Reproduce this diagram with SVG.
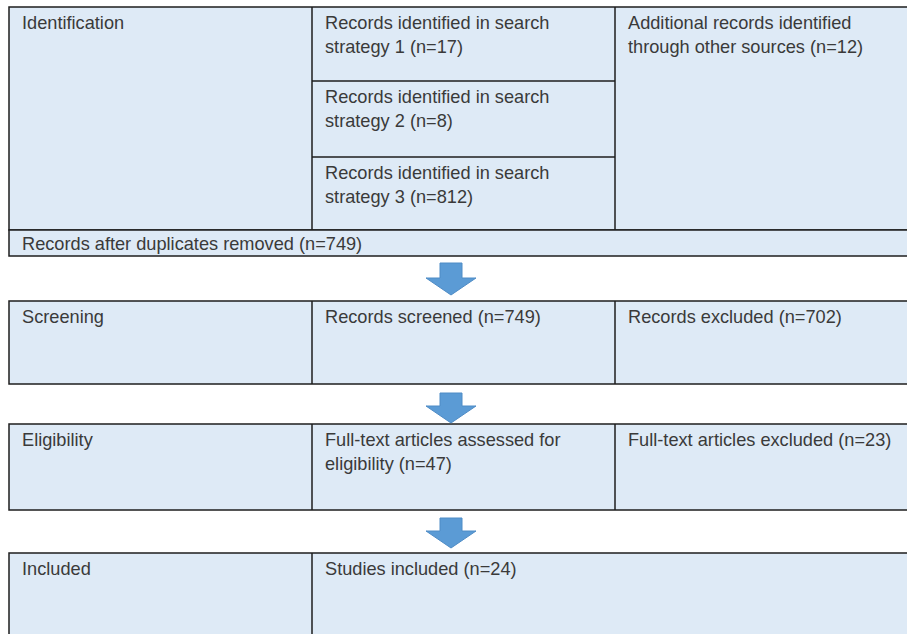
<svg xmlns="http://www.w3.org/2000/svg" width="907" height="634" viewBox="0 0 907 634">
<style>
.box{fill:#DEEAF6;stroke:#1e1e1e;stroke-width:1.5}
.ln{stroke:#1e1e1e;stroke-width:1.5;fill:none}
.t{font-family:"Liberation Sans",Arial,sans-serif;font-size:18.2px;fill:#3a3a3a}
.arr{fill:#5B9BD5;stroke:#4F8CC6;stroke-width:1}
</style>
<rect width="907" height="634" fill="#ffffff"/>
<g id="identification">
<rect class="box" x="9" y="7" width="920" height="223"/>
<line class="ln" x1="312" y1="7" x2="312" y2="230"/>
<line class="ln" x1="615" y1="7" x2="615" y2="230"/>
<line class="ln" x1="312" y1="81" x2="615" y2="81"/>
<line class="ln" x1="312" y1="157" x2="615" y2="157"/>
<text class="t" x="22" y="29">Identification</text>
</g>
<g id="strategy1"><text class="t" x="325" y="29">Records identified in search</text><text class="t" x="325" y="53">strategy 1 (n=17)</text></g>
<g id="strategy2"><text class="t" x="325" y="103">Records identified in search</text><text class="t" x="325" y="127">strategy 2 (n=8)</text></g>
<g id="strategy3"><text class="t" x="325" y="179">Records identified in search</text><text class="t" x="325" y="203">strategy 3 (n=812)</text></g>
<g id="other"><text class="t" x="628" y="29">Additional records identified</text><text class="t" x="628" y="53">through other sources (n=12)</text></g>
<g id="dedup">
<rect class="box" x="9" y="230" width="920" height="26"/>
<text class="t" x="22" y="250">Records after duplicates removed (n=749)</text>
</g>
<g id="screening">
<rect class="box" x="9" y="301" width="920" height="83"/>
<line class="ln" x1="312" y1="301" x2="312" y2="384"/>
<line class="ln" x1="615" y1="301" x2="615" y2="384"/>
<text class="t" x="22" y="323">Screening</text>
<text class="t" x="325" y="323">Records screened (n=749)</text>
<text class="t" x="628" y="323">Records excluded (n=702)</text>
</g>
<g id="eligibility">
<rect class="box" x="9" y="424" width="920" height="86"/>
<line class="ln" x1="312" y1="424" x2="312" y2="510"/>
<line class="ln" x1="615" y1="424" x2="615" y2="510"/>
<text class="t" x="22" y="446">Eligibility</text>
<text class="t" x="325" y="446">Full-text articles assessed for</text>
<text class="t" x="325" y="470">eligibility (n=47)</text>
<text class="t" x="628" y="446">Full-text articles excluded (n=23)</text>
</g>
<g id="included">
<rect class="box" x="9" y="553" width="920" height="120"/>
<line class="ln" x1="312" y1="553" x2="312" y2="680"/>
<text class="t" x="22" y="575">Included</text>
<text class="t" x="325" y="575">Studies included (n=24)</text>
</g>
<g id="connectors">
<polygon class="arr" points="440,263 462,263 462,278 476,278 451,295 426,278 440,278"/>
<polygon class="arr" points="440,393 462,393 462,406 476,406 451,423 426,406 440,406"/>
<polygon class="arr" points="440,518 462,518 462,531 476,531 451,548 426,531 440,531"/>
</g>
</svg>
